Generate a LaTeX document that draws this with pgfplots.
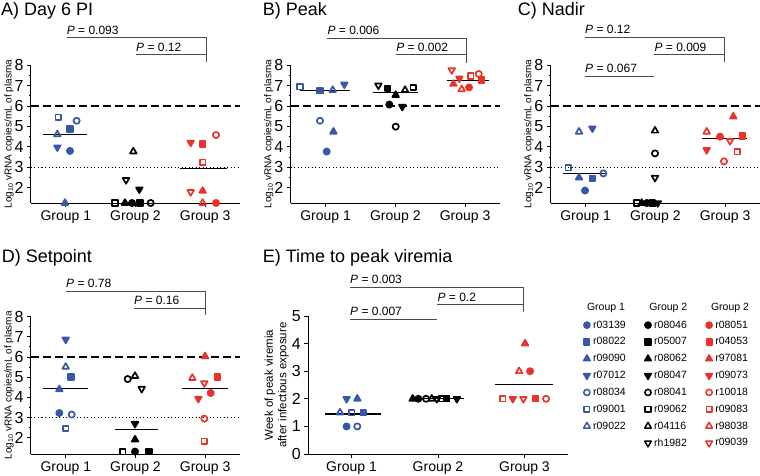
\documentclass[border=0pt]{standalone}
\usepackage{fontspec}
\setmainfont{Liberation Sans}
\usepackage{pgfplots}
\pgfplotsset{compat=1.18}

\definecolor{gblue}{RGB}{55,88,168}
\definecolor{gred}{RGB}{232,50,42}
\definecolor{pline}{RGB}{75,75,75}

% downward triangles, open and filled
\pgfdeclareplotmark{dtri}{%
  \pgfpathmoveto{\pgfqpointpolar{-90}{\pgfplotmarksize}}%
  \pgfpathlineto{\pgfqpointpolar{30}{\pgfplotmarksize}}%
  \pgfpathlineto{\pgfqpointpolar{150}{\pgfplotmarksize}}%
  \pgfpathclose
  \pgfusepathqstroke}
\pgfdeclareplotmark{dtri*}{%
  \pgfpathmoveto{\pgfqpointpolar{-90}{\pgfplotmarksize}}%
  \pgfpathlineto{\pgfqpointpolar{30}{\pgfplotmarksize}}%
  \pgfpathlineto{\pgfqpointpolar{150}{\pgfplotmarksize}}%
  \pgfpathclose
  \pgfusepathqfillstroke}

\newcommand{\xtfont}{\fontsize{14}{16}\selectfont}
\newcommand{\ytfont}{\fontsize{16}{18}\selectfont}
\newcommand{\labfont}{\fontsize{10}{12}\selectfont}
\newcommand{\pfont}{\fontsize{12}{14}\selectfont}
\newcommand{\titfont}{\fontsize{18}{21}\selectfont}
\newcommand{\legfont}{\fontsize{10.5}{12}\selectfont}

\tikzset{
  fc/.style={mark=*, mark size=3.1pt},
  fs/.style={mark=square*, mark size=2.8pt},
  ft/.style={mark=triangle*, mark size=3.8pt},
  fd/.style={mark=dtri*, mark size=3.8pt},
  oc/.style={mark=o, mark size=3.1pt},
  os/.style={mark=square, mark size=2.8pt},
  ot/.style={mark=triangle, mark size=3.8pt},
  od/.style={mark=dtri, mark size=3.8pt},
}

\pgfplotsset{
  animals/.style={only marks, scatter, scatter src=explicit symbolic,
    line width=1.7pt, line join=round,
    mark options={line width=1.7pt, line join=round},
    scatter/classes={
      b1={fc,gblue}, b2={fs,gblue}, b3={ft,gblue}, b4={fd,gblue},
      b5={oc,gblue}, b6={os,gblue}, b7={ot,gblue},
      k1={fc,black}, k2={fs,black}, k3={ft,black}, k4={fd,black},
      k5={oc,black}, k6={os,black}, k7={ot,black}, k8={od,black},
      r1={fc,gred}, r2={fs,gred}, r3={ft,gred}, r4={fd,gred},
      r5={oc,gred}, r6={os,gred}, r7={ot,gred}, r8={od,gred}}},
  med/.style={black, line width=1.1pt},
  refdash/.style={black, line width=1.2pt, dash pattern=on 8pt off 4pt},
  refdot/.style={black, line width=1pt, dash pattern=on 1pt off 2.5pt},
  panel/.style={
    scale only axis, clip=false,
    axis lines=left, axis line style={-, line width=1pt},
    xmin=0.5, xmax=3.5,
    xtick={1,2,3}, xticklabels={Group 1,Group 2,Group 3},
    tick align=outside, major tick length=4pt, minor tick length=2pt,
    tick style={black, line width=1pt},
    xticklabel style={font=\xtfont},
    yticklabel style={font=\ytfont},
    /pgf/number format/assume math mode=true,
    ylabel={Log\textsubscript{10} vRNA copies/mL of plasma},
    ylabel style={font=\labfont, at={(axis description cs:-0.105,0.5)}, anchor=center},
  },
  logpanel/.style={panel, width=209pt, height=137.8pt, ymin=1.25, ymax=8,
    ytick={2,...,8}, minor y tick num=1},
}

% P value bar: x0, x1, y, value
\newcommand{\pbar}[4]{%
  \draw[pline, line width=1pt] (axis cs:#1,#3) -- (axis cs:#2,#3);
  \node[anchor=south west, inner sep=0pt, font=\pfont, yshift=3.5pt] at (axis cs:#1,#3) {\textit{P} = #4};}
\newcommand{\pdrop}[3]{\draw[pline, line width=1pt] (axis cs:#1,#2) -- (axis cs:#1,#3);}

\begin{document}
\begin{tikzpicture}
\useasboundingbox (0,0) rectangle (760pt,475pt);

% ---------- A) Day 6 PI
\node[anchor=base west, inner sep=0pt, font=\titfont] at (1pt,459pt) {A) Day 6 PI};
\begin{axis}[logpanel, at={(31pt,272pt)}, anchor=south west]
\addplot[refdash] coordinates {(0.5,6) (3.5,6)};
\addplot[refdot] coordinates {(0.5,3) (3.5,3)};
\addplot[animals] table[meta=id] {
x y id
0.892 5.45 b6
1.060 4.87 b2
1.155 5.28 b5
0.878 4.61 b7
0.878 3.98 b4
1.060 3.80 b1
0.988 1.25 b3
1.969 3.77 k7
1.864 2.38 k8
2.055 1.92 k4
1.706 1.25 k6
1.849 1.25 k3
1.950 1.25 k1
2.065 1.25 k2
2.218 1.25 k5
2.792 4.21 r4
2.964 4.14 r2
3.156 4.58 r5
2.964 3.24 r6
2.792 1.79 r8
2.964 1.84 r3
2.964 1.25 r7
3.156 1.25 r1
};
\addplot[med] coordinates {(0.677,4.61) (1.309,4.61)};
\addplot[med] coordinates {(2.639,2.95) (3.309,2.95)};
\pbar{1.012}{3.02}{9.34}{0.093}
\pdrop{3.02}{9.34}{8.17}
\pbar{2.007}{3.02}{8.50}{0.12}
\end{axis}

% ---------- B) Peak
\node[anchor=base west, inner sep=0pt, font=\titfont] at (262.7pt,459pt) {B) Peak};
\begin{axis}[logpanel, width=209.3pt, at={(290.7pt,272pt)}, anchor=south west]
\addplot[refdash] coordinates {(0.5,6) (3.5,6)};
\addplot[refdot] coordinates {(0.5,3) (3.5,3)};
\addplot[animals] table[meta=id] {
x y id
0.634 6.95 b6
0.920 6.75 b2
1.102 6.78 b7
1.269 7.06 b4
0.920 5.28 b5
1.112 4.74 b3
1.016 3.77 b1
1.757 7.01 k8
1.890 6.86 k2
2.139 6.78 k7
2.258 6.91 k6
2.005 6.54 k3
1.914 6.07 k1
2.100 5.97 k4
2.005 4.99 k5
2.808 7.76 r8
2.918 7.35 r4
2.832 7.08 r3
2.951 6.82 r7
3.056 6.91 r1
3.080 7.47 r6
3.195 7.57 r5
3.238 7.27 r2
};
\addplot[med] coordinates {(0.634,6.75) (1.350,6.75)};
\addplot[med] coordinates {(1.675,6.67) (2.330,6.67)};
\addplot[med] coordinates {(2.736,7.27) (3.348,7.27)};
\pbar{1.026}{3.013}{9.31}{0.006}
\pdrop{3.013}{9.31}{8.12}
\pbar{2.010}{3.013}{8.50}{0.002}
\end{axis}

% ---------- C) Nadir
\node[anchor=base west, inner sep=0pt, font=\titfont] at (517.7pt,459pt) {C) Nadir};
\begin{axis}[logpanel, width=209.3pt, at={(550.7pt,272pt)}, anchor=south west]
\addplot[refdash] coordinates {(0.5,6) (3.5,6)};
\addplot[refdot] coordinates {(0.5,3) (3.5,3)};
\addplot[animals] table[meta=id] {
x y id
0.906 4.74 b7
1.097 4.91 b4
0.753 2.98 b6
0.906 2.49 b3
1.097 2.46 b2
1.255 2.70 b5
0.992 1.86 b1
1.995 4.79 k7
1.995 3.68 k5
1.995 2.49 k8
1.733 1.25 k6
1.804 1.25 k3
1.876 1.25 k1
1.956 1.25 k2
2.034 1.25 k4
3.118 5.48 r3
2.736 4.74 r7
2.927 4.50 r1
3.247 4.53 r2
3.070 4.29 r8
2.736 3.85 r4
3.176 3.77 r6
2.984 3.29 r5
};
\addplot[med] coordinates {(0.682,2.70) (1.279,2.70)};
\addplot[med] coordinates {(2.664,4.39) (3.309,4.39)};
\pbar{0.992}{2.984}{9.36}{0.12}
\pdrop{2.984}{9.36}{8.17}
\pbar{1.986}{2.984}{8.50}{0.009}
\pbar{0.992}{1.986}{7.47}{0.067}
\end{axis}

% ---------- D) Setpoint
\node[anchor=base west, inner sep=0pt, font=\titfont] at (1.7pt,212.3pt) {D) Setpoint};
\begin{axis}[logpanel, ymin=1.2, height=137.4pt, at={(31pt,21pt)}, anchor=south west]
\addplot[refdash] coordinates {(0.5,6) (3.5,6)};
\addplot[refdot] coordinates {(0.5,3) (3.5,3)};
\addplot[animals] table[meta=id] {
x y id
0.998 6.87 b4
0.998 5.51 b7
1.074 5.01 b2
0.907 4.40 b3
0.907 3.23 b1
1.084 3.15 b5
0.998 2.46 b6
1.993 5.06 k7
1.888 4.91 k5
2.089 4.43 k8
1.993 2.70 k4
1.993 1.91 k3
1.816 1.32 k6
1.993 1.32 k1
2.194 1.32 k2
2.998 6.03 r3
2.816 4.96 r7
3.175 5.01 r2
2.988 4.71 r8
3.079 4.22 r1
2.902 3.94 r4
2.988 2.95 r5
2.988 1.83 r6
};
\addplot[med] coordinates {(0.677,4.45) (1.323,4.45)};
\addplot[med] coordinates {(1.706,2.41) (2.328,2.41)};
\addplot[med] coordinates {(2.663,4.45) (3.333,4.45)};
\pbar{1.002}{2.998}{9.26}{0.78}
\pdrop{2.998}{9.26}{8.06}
\pbar{1.978}{2.998}{8.39}{0.16}
\end{axis}

% ---------- E) Time to peak viremia
\node[anchor=base west, inner sep=0pt, font=\titfont] at (262.7pt,212.7pt) {E) Time to peak viremia};
\begin{axis}[panel, width=259.4pt, height=138pt, ymin=0, ymax=5, ytick={0,...,5},
  at={(308.3pt,21pt)}, anchor=south west,
  ylabel={Week of peak viremia\\after infectious exposure},
  ylabel style={align=center, font=\fontsize{11.5}{13.3}\selectfont, at={(axis description cs:-0.122,0.5)}}]
\addplot[animals] table[meta=id] {
x y id
0.943 2 b4
1.067 2 b3
0.866 1.5 b7
1.001 1.5 b6
1.136 1.5 b2
0.943 1 b1
1.067 1 b5
1.708 2 k3
1.773 2 k1
1.862 2 k5
1.928 2 k7
1.986 2 k8
2.044 2 k6
2.102 2 k2
2.218 2 k4
3.007 4 r3
2.938 3 r7
3.065 3 r1
2.749 2 r6
2.865 2 r4
2.988 2 r8
3.131 2 r2
3.250 2 r5
};
\addplot[med] coordinates {(0.693,1.45) (1.337,1.45)};
\addplot[med] coordinates {(1.676,2.0) (2.300,2.0)};
\addplot[med] coordinates {(2.660,2.52) (3.335,2.52)};
\pbar{0.982}{2.988}{6.04}{0.003}
\pdrop{2.988}{6.04}{5.16}
\pbar{1.993}{2.988}{5.40}{0.2}
\pbar{0.982}{1.993}{4.88}{0.007}
\end{axis}

% ---------- legend
\node[font=\legfont] at (606pt,167.3pt) {Group 1};
\node[font=\legfont] at (668.3pt,167.3pt) {Group 2};
\node[font=\legfont] at (730pt,167.3pt) {Group 2};
\begin{axis}[hide axis, scale only axis, width=10pt, height=10pt,
  xmin=0, xmax=1, ymin=0, ymax=1,
  at={(582.7pt,156.3pt)}, anchor=north west,
  legend columns=3, legend cell align=left,
  legend style={at={(0,1)}, anchor=north west, draw=none, fill=none,
    inner sep=0pt, outer sep=0pt, font=\legfont, row sep=4pt,
    /tikz/every even column/.append style={column sep=16pt}},
  legend image code/.code={\path (0pt,0pt) (8pt,0pt);
    \draw[#1, /tikz/only marks, line width=1.5pt, line join=round,
      mark options={line width=1.5pt, line join=round}] plot coordinates {(4pt,0pt)};},
]
\addlegendimage{fc,gblue}\addlegendentry{r03139}
\addlegendimage{fc,black}\addlegendentry{r08046}
\addlegendimage{fc,gred}\addlegendentry{r08051}
\addlegendimage{fs,gblue}\addlegendentry{r08022}
\addlegendimage{fs,black}\addlegendentry{r05007}
\addlegendimage{fs,gred}\addlegendentry{r04053}
\addlegendimage{ft,gblue}\addlegendentry{r09090}
\addlegendimage{ft,black}\addlegendentry{r08062}
\addlegendimage{ft,gred}\addlegendentry{r97081}
\addlegendimage{fd,gblue}\addlegendentry{r07012}
\addlegendimage{fd,black}\addlegendentry{r08047}
\addlegendimage{fd,gred}\addlegendentry{r09073}
\addlegendimage{oc,gblue}\addlegendentry{r08034}
\addlegendimage{oc,black}\addlegendentry{r08041}
\addlegendimage{oc,gred}\addlegendentry{r10018}
\addlegendimage{os,gblue}\addlegendentry{r09001}
\addlegendimage{os,black}\addlegendentry{r09062}
\addlegendimage{os,gred}\addlegendentry{r09083}
\addlegendimage{ot,gblue}\addlegendentry{r09022}
\addlegendimage{ot,black}\addlegendentry{r04116}
\addlegendimage{ot,gred}\addlegendentry{r98038}
\addlegendimage{empty legend}\addlegendentry{}
\addlegendimage{od,black}\addlegendentry{rh1982}
\addlegendimage{od,gred}\addlegendentry{r09039}
\end{axis}
\end{tikzpicture}
\end{document}
